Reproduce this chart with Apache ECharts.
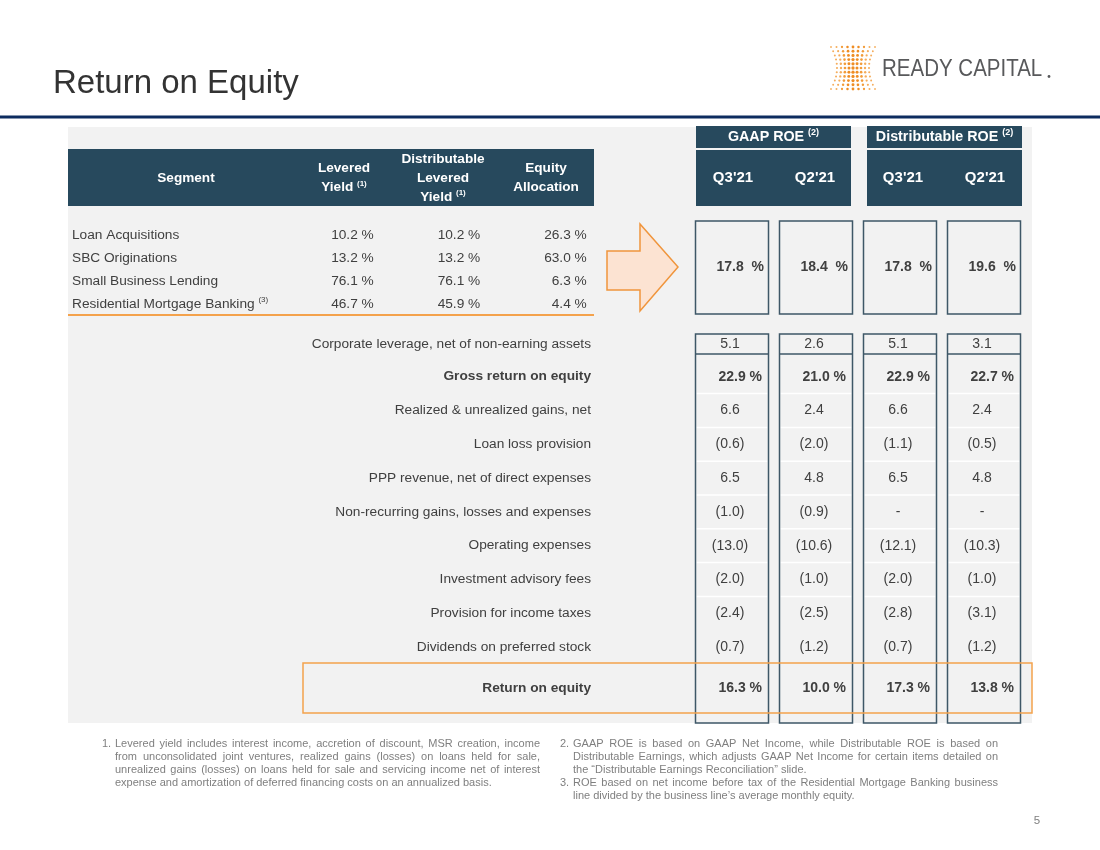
<!DOCTYPE html>
<html><head><meta charset="utf-8">
<script src="https://cdn.jsdelivr.net/npm/echarts/dist/echarts.min.js"></script>
<style>html,body{margin:0;padding:0;background:#fff}#c{width:1100px;height:850px}</style>
</head><body><div id="c"></div>
<script>
// ---------------- DATA ----------------
const segments = ['Loan Acquisitions', 'SBC Originations', 'Small Business Lending', 'Residential Mortgage Banking'];
const segmentNotes = ['', '', '', '(3)'];
const leveredYield = [10.2, 13.2, 76.1, 46.7];
const distLeveredYield = [10.2, 13.2, 76.1, 45.9];
const equityAllocation = [26.3, 63.0, 6.3, 4.4];
const segHeaderLines = [['Segment'], ['Levered', 'Yield'], ['Distributable', 'Levered', 'Yield'], ['Equity', 'Allocation']];
const segHeaderNotes = ['', '(1)', '(1)', ''];

const roeGroups = ['GAAP ROE', 'Distributable ROE'];
const roeGroupNote = '(2)';
const periods = ["Q3'21", "Q2'21", "Q3'21", "Q2'21"];
const roeColumns = ["GAAP Q3'21", "GAAP Q2'21", "Distributable Q3'21", "Distributable Q2'21"];

const segmentRoe = [17.8, 18.4, 17.8, 19.6];
const leverageLabel = 'Corporate leverage, net of non-earning assets';
const leverage = [5.1, 2.6, 5.1, 3.1];
const bridgeItems = ['Gross return on equity', 'Realized & unrealized gains, net', 'Loan loss provision',
  'PPP revenue, net of direct expenses', 'Non-recurring gains, losses and expenses', 'Operating expenses',
  'Investment advisory fees', 'Provision for income taxes', 'Dividends on preferred stock'];
const grossRoe = [22.9, 21.0, 22.9, 22.7];
const realizedGains = [6.6, 2.4, 6.6, 2.4];
const loanLossProvision = [-0.6, -2.0, -1.1, -0.5];
const pppRevenue = [6.5, 4.8, 6.5, 4.8];
const nonRecurring = [-1.0, -0.9, null, null];
const operatingExpenses = [-13.0, -10.6, -12.1, -10.3];
const advisoryFees = [-2.0, -1.0, -2.0, -1.0];
const incomeTaxes = [-2.4, -2.5, -2.8, -3.1];
const preferredDividends = [-0.7, -1.2, -0.7, -1.2];
const totalLabel = 'Return on equity';
const returnOnEquity = [16.3, 10.0, 17.3, 13.8];

const footLeft = [
  ['1.', [
    'Levered yield includes interest income, accretion of discount, MSR creation, income',
    'from unconsolidated joint ventures, realized gains (losses) on loans held for sale,',
    'unrealized gains (losses) on loans held for sale and servicing income net of interest',
    'expense and amortization of deferred financing costs on an annualized basis.']]
];
const footRight = [
  ['2.', [
    'GAAP ROE is based on GAAP Net Income, while Distributable ROE is based on',
    'Distributable Earnings, which adjusts GAAP Net Income for certain items detailed on',
    'the \u201CDistributable Earnings Reconciliation\u201D slide.']],
  ['3.', [
    'ROE based on net income before tax of the Residential Mortgage Banking business',
    'line divided by the business line\u2019s average monthly equity.']]
];
const titleText = 'Return on Equity';
const logoText = 'READY CAPITAL';
const pageNumber = '5';

// ---------------- STYLE ----------------
const FF = '"Liberation Sans", Arial, sans-serif';
const TXT = '#404040';
const HEAD = '#27495d';
const FRAME = '#3e5767';
const ORANGE = '#f4a24c';
const BG = '#f2f2f2';
const VFS = 14;      // value font size
const LFS = 13.7;    // row label font size
const font = (s, b) => (b ? 'bold ' : '') + s + 'px ' + FF;

const bridgeRows = [grossRoe, realizedGains, loanLossProvision, pppRevenue, nonRecurring,
  operatingExpenses, advisoryFees, incomeTaxes, preferredDividends];

function fmtNum(v) {
  if (v === null || v === undefined) return '-';
  return v < 0 ? '(' + Math.abs(v).toFixed(1) + ')' : v.toFixed(1);
}
function fmtPct(v) { return v.toFixed(1) + ' %'; }

const chart = echarts.init(document.getElementById('c'), null, { renderer: 'canvas' });

function cat(gi, data, extra) {
  return Object.assign({
    type: 'category', gridIndex: gi, data: data,
    axisLine: { show: false }, axisTick: { show: false }, axisLabel: { show: false },
    splitLine: { show: false }
  }, extra || {});
}
const labelBase = { show: true, fontSize: LFS, color: TXT, fontFamily: FF, lineHeight: 16 };

// ---------------- series data ----------------
const segCols = [leveredYield, distLeveredYield, equityAllocation];
const segData = [], segText = [];
segCols.forEach((arr, c) => arr.forEach((v, r) => { segData.push([c, r]); segText.push(fmtPct(v)); }));

const colIdx = roeColumns.map((_, i) => [i, 0]);

const bridgeData = [], bridgeText = [], bridgeRowOf = [];
bridgeRows.forEach((arr, r) => arr.forEach((v, c) => {
  bridgeData.push([c, r]);
  bridgeText.push(r === 0 ? fmtPct(v) : fmtNum(v));
  bridgeRowOf.push(r);
}));

const BOXW = 73;

const series = [
  { // segment table values
    type: 'custom', xAxisIndex: 0, yAxisIndex: 0, data: segData, z: 5,
    renderItem: (params, api) => {
      const p = api.coord([api.value(0), api.value(1)]);
      return { type: 'text', x: p[0] + 50.5, y: p[1],
        style: { text: segText[params.dataIndex], font: font(LFS), fill: TXT, align: 'right', verticalAlign: 'middle' } };
    }
  },
  { // segment ROE boxes
    type: 'custom', xAxisIndex: 1, yAxisIndex: 1, data: colIdx, z: 5,
    renderItem: (params, api) => {
      const p = api.coord([api.value(0), 0]);
      const cs = params.coordSys;
      return { type: 'group', children: [
        { type: 'rect', shape: { x: p[0] - BOXW / 2, y: cs.y, width: BOXW, height: cs.height },
          style: { fill: BG, stroke: FRAME, lineWidth: 1.5 } },
        { type: 'text', x: p[0] + 32, y: p[1],
          style: { text: segmentRoe[params.dataIndex].toFixed(1) + '  %', font: font(VFS, true), fill: TXT, align: 'right', verticalAlign: 'middle' } }
      ] };
    }
  },
  { // column frames
    type: 'custom', xAxisIndex: 2, yAxisIndex: 2, data: colIdx, z: 6,
    renderItem: (params, api) => {
      const p = api.coord([api.value(0), 0]);
      const cs = params.coordSys;
      return { type: 'rect', shape: { x: p[0] - BOXW / 2, y: cs.y, width: BOXW, height: cs.height },
        style: { fill: null, stroke: FRAME, lineWidth: 1.5 } };
    }
  },
  { // leverage row
    type: 'custom', xAxisIndex: 3, yAxisIndex: 3, data: colIdx, z: 5,
    renderItem: (params, api) => {
      const p = api.coord([api.value(0), 0]);
      const cs = params.coordSys;
      return { type: 'group', children: [
        { type: 'line', shape: { x1: p[0] - BOXW / 2, y1: cs.y + cs.height, x2: p[0] + BOXW / 2, y2: cs.y + cs.height },
          style: { stroke: FRAME, lineWidth: 1.5 } },
        { type: 'text', x: p[0] - 2, y: p[1],
          style: { text: fmtNum(leverage[params.dataIndex]), font: font(VFS), fill: TXT, align: 'center', verticalAlign: 'middle' } }
      ] };
    }
  },
  { // bridge rows
    type: 'custom', xAxisIndex: 4, yAxisIndex: 4, data: bridgeData, z: 5,
    renderItem: (params, api) => {
      const p = api.coord([api.value(0), api.value(1)]);
      const cs = params.coordSys;
      const bandH = cs.height / bridgeItems.length;
      const r = bridgeRowOf[params.dataIndex];
      const pct = r === 0;
      const children = [
        { type: 'text', x: pct ? p[0] + 30 : p[0] - 2, y: p[1],
          style: { text: bridgeText[params.dataIndex], font: font(VFS, pct), fill: TXT,
            align: pct ? 'right' : 'center', verticalAlign: 'middle' } }
      ];
      if (r < bridgeItems.length - 2) {
        children.push({ type: 'line', shape: { x1: p[0] - BOXW / 2 + 1, y1: p[1] + bandH / 2, x2: p[0] + BOXW / 2 - 1, y2: p[1] + bandH / 2 },
          style: { stroke: '#ffffff', lineWidth: 1.5 } });
      }
      return { type: 'group', children };
    }
  },
  { // total ROE
    type: 'custom', xAxisIndex: 5, yAxisIndex: 5, data: colIdx, z: 5,
    renderItem: (params, api) => {
      const p = api.coord([api.value(0), 0]);
      return { type: 'text', x: p[0] + 30, y: p[1],
        style: { text: fmtPct(returnOnEquity[params.dataIndex]), font: font(VFS, true), fill: TXT, align: 'right', verticalAlign: 'middle' } };
    }
  }
];

// ---------------- graphic ----------------
const G = [];
G.push({ type: 'rect', z: -10, shape: { x: 68, y: 127, width: 964, height: 596 }, style: { fill: BG } });
G.push({ type: 'rect', z: 1, shape: { x: 0, y: 115.5, width: 1100, height: 3 }, style: { fill: '#0d2c5f' } });
G.push({ type: 'text', z: 1, x: 53, y: 84, style: { text: titleText, font: font(33), fill: '#333333', verticalAlign: 'middle' } });

// logo
(function () {
  const cx = 853, top = 47, rowGap = 4.2, nR = 11, nC = 9;
  for (let r = 0; r < nR; r++) {
    const t = (r - (nR - 1) / 2) / ((nR - 1) / 2);
    const halfW = 16 + 6 * t * t;
    for (let c = 0; c < nC; c++) {
      const u = (c - (nC - 1) / 2) / ((nC - 1) / 2);
      const rad = (1.65 - 0.6 * Math.abs(u)) * (1 - 0.15 * t * t);
      const col = Math.abs(u) > 0.6 ? '#f5ad5c' : (Math.abs(u) > 0.3 ? '#f29c3a' : '#ef8d24');
      G.push({ type: 'circle', z: 1, shape: { cx: cx + u * halfW, cy: top + r * rowGap, r: rad }, style: { fill: col } });
    }
  }
})();
G.push({ type: 'text', z: 1, x: 882, y: 69, scaleY: 1.2, style: { text: logoText, font: font(20.5), fill: '#58595b', verticalAlign: 'middle' } });
G.push({ type: 'circle', z: 1, shape: { cx: 1049, cy: 76.5, r: 1.4 }, style: { fill: '#58595b' } });

// segment header
G.push({ type: 'rect', z: 1, shape: { x: 68, y: 149, width: 526, height: 57 }, style: { fill: HEAD } });
const segHeadX = [186, 344, 443, 546];
segHeaderLines.forEach((lines, i) => {
  const n = lines.length;
  lines.forEach((ln, j) => {
    const last = j === n - 1 && segHeaderNotes[i];
    G.push({ type: 'text', z: 2, x: segHeadX[i], y: 178 + (j - (n - 1) / 2) * 19,
      style: { text: last ? ln + ' {sup|' + segHeaderNotes[i] + '}' : ln, font: font(13.6, true), fill: '#ffffff',
        align: 'center', verticalAlign: 'middle', lineHeight: 16,
        rich: { sup: { fontSize: 8, fontWeight: 'bold', fontFamily: FF, fill: '#ffffff', lineHeight: 9, verticalAlign: 'top' } } } });
  });
});
G.push({ type: 'line', z: 2, shape: { x1: 68, y1: 315, x2: 594, y2: 315 }, style: { stroke: ORANGE, lineWidth: 2 } });

// ROE headers
const groupBoxes = [[696, 155], [867, 155]];
roeGroups.forEach((g, i) => {
  const [x, w] = groupBoxes[i];
  G.push({ type: 'rect', z: 1, shape: { x: x, y: 126, width: w, height: 22 }, style: { fill: HEAD } });
  G.push({ type: 'rect', z: 1, shape: { x: x, y: 150, width: w, height: 56 }, style: { fill: HEAD } });
  G.push({ type: 'text', z: 2, x: x + w / 2, y: 137,
    style: { text: g + ' {sup|' + roeGroupNote + '}', font: font(14.3, true), fill: '#ffffff', align: 'center', verticalAlign: 'middle', lineHeight: 17,
      rich: { sup: { fontSize: 9, fontWeight: 'bold', fontFamily: FF, fill: '#ffffff', lineHeight: 10, verticalAlign: 'top' } } } });
});
const periodX = [733, 815, 903, 985];
periods.forEach((p, i) => {
  G.push({ type: 'text', z: 2, x: periodX[i], y: 178, style: { text: p, font: font(15, true), fill: '#ffffff', align: 'center', verticalAlign: 'middle' } });
});

// arrow
G.push({ type: 'polygon', z: 2, shape: { points: [[607, 251], [640, 251], [640, 224], [678, 267], [640, 311], [640, 290], [607, 290]] },
  style: { fill: '#fce3d2', stroke: '#f0953c', lineWidth: 1.5 } });

// orange box around total
G.push({ type: 'rect', z: 20, shape: { x: 303, y: 663, width: 729, height: 50 }, style: { fill: null, stroke: ORANGE, lineWidth: 1.5 } });

// footnotes (justified)
const ctx = document.createElement('canvas').getContext('2d');
const FN = font(11);
ctx.font = FN;
function addLine(text, x0, x1, y, justify) {
  if (!justify) {
    G.push({ type: 'text', z: 2, x: x0, y: y, style: { text: text, font: FN, fill: '#7f7f7f', verticalAlign: 'middle' } });
    return;
  }
  const words = text.split(' ');
  const ws = words.map(w => ctx.measureText(w).width);
  const sum = ws.reduce((a, b) => a + b, 0);
  const gap = (x1 - x0 - sum) / (words.length - 1);
  let x = x0;
  words.forEach((w, i) => {
    G.push({ type: 'text', z: 2, x: x, y: y, style: { text: w, font: FN, fill: '#7f7f7f', verticalAlign: 'middle' } });
    x += ws[i] + gap;
  });
}
function addNotes(notes, xn, x0, x1) {
  let y = 744;
  notes.forEach(([num, lines]) => {
    G.push({ type: 'text', z: 2, x: xn, y: y, style: { text: num, font: FN, fill: '#7f7f7f', verticalAlign: 'middle' } });
    lines.forEach((ln, i) => { addLine(ln, x0, x1, y, i < lines.length - 1); y += 13; });
  });
}
addNotes(footLeft, 102, 115, 540);
addNotes(footRight, 560, 573, 998);

G.push({ type: 'text', z: 2, x: 1037, y: 821, style: { text: pageNumber, font: font(11.5), fill: '#7f7f7f', align: 'center', verticalAlign: 'middle' } });

// ---------------- option ----------------
const colGrid = { left: 690, width: 336 };
const option = {
  animation: false,
  backgroundColor: '#ffffff',
  textStyle: { fontFamily: FF },
  grid: [
    { left: 270, width: 319.5, top: 223.5, height: 92 },
    Object.assign({ top: 221, height: 93 }, colGrid),
    Object.assign({ top: 334, height: 389 }, colGrid),
    Object.assign({ top: 334, height: 20 }, colGrid),
    Object.assign({ top: 359.8, height: 304.2 }, colGrid),
    Object.assign({ top: 663, height: 50 }, colGrid)
  ],
  xAxis: [
    cat(0, ['Levered Yield', 'Distributable Levered Yield', 'Equity Allocation']),
    cat(1, roeColumns), cat(2, roeColumns), cat(3, roeColumns), cat(4, roeColumns), cat(5, roeColumns)
  ],
  yAxis: [
    cat(0, segments, { inverse: true, axisLabel: Object.assign({}, labelBase, { align: 'left', margin: 198,
      formatter: (v, i) => segmentNotes[i] ? v + ' {sup|' + segmentNotes[i] + '}' : v,
      rich: { sup: { fontSize: 8, color: TXT, fontFamily: FF, lineHeight: 9, verticalAlign: 'top' } } }) }),
    cat(1, ['Segment ROE']),
    cat(2, ['']),
    cat(3, [leverageLabel], { axisLabel: Object.assign({}, labelBase, { align: 'right', margin: 99 }) }),
    cat(4, bridgeItems, { inverse: true, axisLabel: Object.assign({}, labelBase, { align: 'right', margin: 99,
      formatter: (v) => v === bridgeItems[0] ? '{b|' + v + '}' : v,
      rich: { b: { fontSize: LFS, fontWeight: 'bold', color: TXT, fontFamily: FF } } }) }),
    cat(5, [totalLabel], { axisLabel: Object.assign({}, labelBase, { align: 'right', margin: 99, fontWeight: 'bold' }) })
  ],
  series: series,
  graphic: { elements: G }
};
chart.setOption(option);
</script>
</body></html>
